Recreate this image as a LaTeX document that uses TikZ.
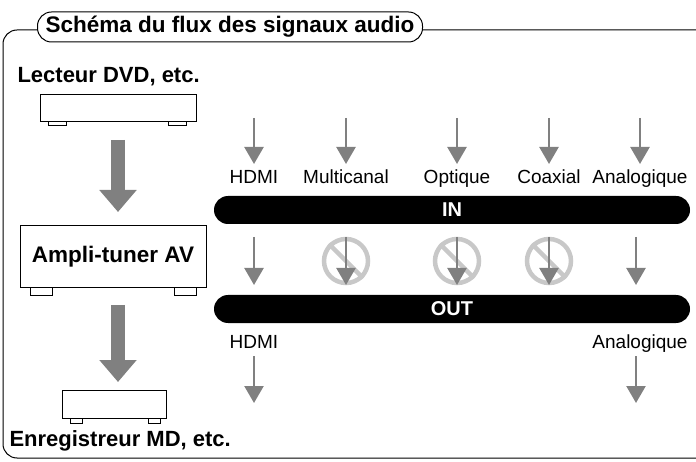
\documentclass[tikz,border=0pt]{standalone}
\usepackage{fontspec}
\setmainfont{Liberation Sans}
\usetikzlibrary{arrows.meta}
\definecolor{ag}{HTML}{808080}
\definecolor{pg}{HTML}{C8C8C8}
\begin{document}
\begin{tikzpicture}[x=1pt,y=-1pt,
  sarrow/.style={draw=ag,line width=2.4pt,-{Triangle[width=19pt,length=17pt]}},
  barrow/.style={draw=ag,line width=14pt,-{Triangle[width=36pt,length=22pt]}},
  lbl/.style={font=\fontsize{19}{19}\selectfont,anchor=base},
  bar/.style={fill=black,rounded corners=14pt},
  dev/.style={draw,line width=1pt,fill=white},
  noent/.style={draw=pg,line width=4.5pt}]
\useasboundingbox (0,0) rectangle (696,462);
% frame
\draw[line width=1pt,rounded corners=14pt] (696,30) -- (3,30) -- (3,458) -- (696,458);
\node[draw,line width=1pt,fill=white,rounded corners=14pt,minimum width=385pt,minimum height=30pt,font=\bfseries\fontsize{22.5}{22.5}\selectfont] (title) at (230,27) {Schéma du flux des signaux audio};
% devices
\node[font=\bfseries\fontsize{22}{22}\selectfont,anchor=west] (dvdt) at (14,77) {Lecteur DVD, etc.};
\draw[dev] (48,122) rectangle (66,126) (168,122) rectangle (186,126);
\node[dev,minimum width=156pt,minimum height=27pt,inner sep=0pt] (dvd) at (118,108.5) {};
\draw[dev] (30,288) rectangle (52,296) (174,288) rectangle (196,296);
\node[dev,minimum width=186pt,minimum height=62pt,font=\bfseries\fontsize{22.5}{22.5}\selectfont] (amp) at (113,257) {Ampli-tuner AV};
\draw[dev] (70,418) rectangle (82,423) (148,418) rectangle (160,423);
\node[dev,minimum width=104pt,minimum height=28pt,inner sep=0pt] (md) at (114,404) {};
\node[font=\bfseries\fontsize{22}{22}\selectfont,anchor=west] (mdt) at (6,441) {Enregistreur MD, etc.};
\coordinate (a1) at (118,140); \coordinate (a2) at (118,212);
\coordinate (b1) at (118,305); \coordinate (b2) at (118,382);
\draw[barrow] (a1) -- (a2);
\draw[barrow] (b1) -- (b2);
% bars
\node[bar,minimum width=476pt,minimum height=28pt,text=white,font=\bfseries\fontsize{20}{20}\selectfont] (in) at (452,210) {IN};
\node[bar,minimum width=476pt,minimum height=28pt,text=white,font=\bfseries\fontsize{20}{20}\selectfont] (out) at (452,309) {OUT};
% columns
\foreach \x/\t [count=\i] in {254/HDMI,346/Multicanal,457/Optique,549/Coaxial,640/Analogique}{
  \coordinate (t\i) at (\x,118); \coordinate (u\i) at (\x,164);
  \draw[sarrow] (t\i) -- (u\i);
  \node[lbl] (l\i) at (\x,184) {\t};
}
\foreach \x [count=\i] in {346,457,549}{
  \node[noent,circle,minimum size=44pt,inner sep=0pt] (c\i) at (\x,261) {};
  \draw[noent] (c\i.135) -- (c\i.-45);
}
\foreach \x [count=\i] in {254,346,457,549,636}{
  \coordinate (m\i) at (\x,237); \coordinate (n\i) at (\x,285);
  \draw[sarrow] (m\i) -- (n\i);
}
\node[lbl] (h2) at (254,348) {HDMI};
\node[lbl] (a5) at (640,348) {Analogique};
\coordinate (p1) at (254,356); \coordinate (q1) at (254,403);
\coordinate (p2) at (636,356); \coordinate (q2) at (636,403);
\draw[sarrow] (p1) -- (q1);
\draw[sarrow] (p2) -- (q2);
\end{tikzpicture}
\end{document}
